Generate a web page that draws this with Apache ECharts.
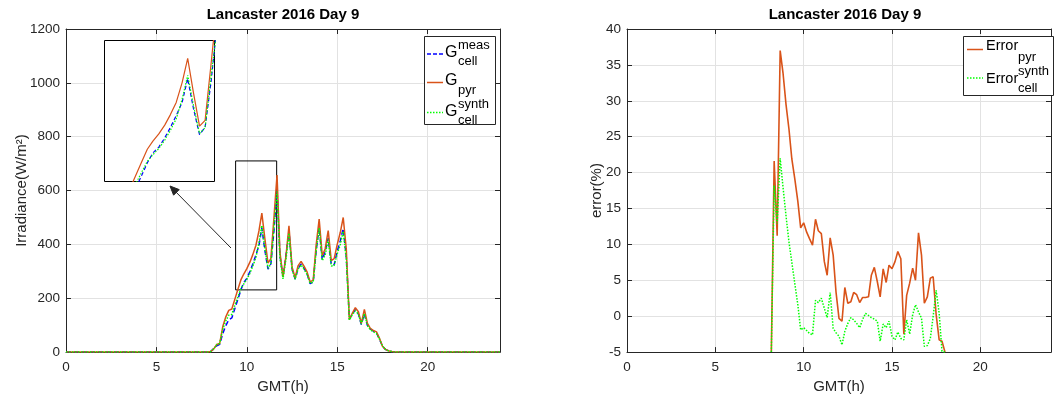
<!DOCTYPE html>
<html><head><meta charset="utf-8">
<script src="https://cdn.jsdelivr.net/npm/echarts@6/dist/echarts.min.js"></script>
<style>html,body{margin:0;padding:0;background:#fff}#c{width:1054px;height:399px}</style>
</head><body><div id="c"></div>
<script>
// ---- data (GMT hours, 10-minute samples) ----
const hours = [0, 7.83, 8.00, 8.17, 8.33, 8.50, 8.67, 8.83, 9.00, 9.17, 9.33, 9.50, 9.67, 9.83, 10.00, 10.17, 10.33, 10.50, 10.67, 10.83, 11.00, 11.17, 11.33, 11.50, 11.67, 11.83, 12.00, 12.17, 12.33, 12.50, 12.67, 12.83, 13.00, 13.17, 13.33, 13.50, 13.67, 13.83, 14.00, 14.17, 14.33, 14.50, 14.67, 14.83, 15.00, 15.17, 15.33, 15.50, 15.67, 15.83, 16.00, 16.17, 16.33, 16.50, 16.67, 16.83, 17.00, 17.17, 17.33, 17.50, 17.67, 17.83, 18.00, 18.17, 24];
const gPyr = [0, 0, 2, 12, 28, 32, 95, 130, 155, 160, 195, 232, 268, 290, 310, 334, 362, 396, 450, 516, 420, 331, 347, 500, 658, 371, 279, 360, 469, 316, 276, 320, 337, 318, 298, 261, 267, 396, 494, 359, 383, 451, 340, 347, 400, 445, 500, 383, 120, 144, 165, 150, 107, 159, 107, 88, 80, 75, 52, 22, 10, 5, 2, 0, 0];
const gMeas = [0, 0, 2, 13, 23, 29, 69, 97, 120, 127, 160, 195, 231, 258, 274, 299, 327, 360, 396, 461, 377, 308, 328, 451, 606, 359, 280, 363, 451, 310, 271, 310, 327, 312, 290, 254, 260, 375, 463, 343, 373, 423, 325, 324, 375, 414, 459, 355, 123, 140, 158, 141, 102, 142, 99, 86, 78, 71, 49, 22, 10, 5, 2, 0, 0];
const gSynth = [0, 0, 2, 12, 27, 33, 85, 115, 137, 140, 172, 204, 235, 253, 270, 293, 319, 351, 405, 470, 386, 311, 327, 466, 596, 351, 272, 348, 442, 307, 270, 308, 324, 307, 289, 255, 260, 374, 461, 340, 360, 418, 320, 322, 365, 400, 449, 344, 119, 139, 154, 141, 104, 143, 99, 83, 75, 69, 49, 23, 10, 5, 2, 0, 0];
const errPyr = [null, null, null, -5, 21.6, 11.2, 37.0, 33.9, 29.5, 26.0, 21.9, 19.1, 16.0, 12.3, 13.0, 11.7, 10.8, 9.9, 13.5, 11.9, 11.5, 7.6, 5.7, 10.9, 8.5, 3.4, -0.3, -0.7, 4.0, 1.8, 2.0, 3.3, 3.0, 1.9, 2.6, 2.6, 2.7, 5.7, 6.8, 4.8, 2.7, 6.6, 4.7, 7.1, 6.6, 7.6, 9.0, 8.0, -2.5, 2.9, 4.6, 6.7, 5.0, 11.6, 8.5, 1.8, 2.7, 5.3, 5.5, 0.2, -3.3, -3.5, -5, null, null];
const errSynth = [null, null, null, -5, 18.2, 12.9, 22.0, 18.0, 14.0, 10.3, 7.5, 4.5, 1.6, -1.9, -1.6, -2.0, -2.4, -2.6, 2.2, 1.9, 2.5, 1.1, -0.2, 3.3, -1.7, -2.3, -2.8, -4.0, -2.1, -1.0, -0.2, -0.5, -1.0, -1.6, -0.5, 0.4, 0.1, -0.2, -0.4, -0.7, -3.5, -1.1, -1.6, -0.7, -2.8, -3.3, -2.2, -3.1, -3.3, -0.5, -2.5, 0.2, 1.6, 0.6, -0.3, -4.2, -4.1, -3.1, 0.0, 3.6, 0.4, -4.9, -5, null, null];
const titleText = 'Lancaster 2016 Day 9';
// zoom window marked on the main plot: [xmin, xmax, ymin, ymax]
const zoomBox = [9.38, 11.65, 231, 710];
// axis ranges of the magnified inset: [xmin, xmax, ymin, ymax]
const insetRange = [8.44, 11.6, 180, 565];

// ---- chart ----
const FONT = '"Liberation Sans", Arial, sans-serif';
const AX = '#262626';
const GRIDC = '#e2e2e2';
const C_MEAS = '#0000ff', C_PYR = '#d95319', C_SYN = '#00ff00';
const pts = ys => hours.map((h, i) => [h, ys[i]]);

function xBottom(gi) {
  return { type: 'value', gridIndex: gi, min: 0, max: 24, interval: 5, position: 'bottom',
    name: 'GMT(h)', nameLocation: 'middle', nameGap: 26,
    nameTextStyle: { color: AX, fontSize: 15, fontFamily: FONT },
    axisLine: { show: true, onZero: false, lineStyle: { color: AX } },
    axisTick: { show: true, inside: true, length: 5, lineStyle: { color: AX } },
    axisLabel: { color: AX, fontSize: 13.5, fontFamily: FONT, margin: 8, formatter: v => (v === 24 ? '' : String(v)) },
    splitLine: { show: true, lineStyle: { color: GRIDC } } };
}
function xTop(gi) {
  return { type: 'value', gridIndex: gi, min: 0, max: 24, interval: 5, position: 'top',
    axisLine: { show: true, onZero: false, lineStyle: { color: AX } },
    axisTick: { show: true, inside: true, length: 5, lineStyle: { color: AX } },
    axisLabel: { show: false }, splitLine: { show: false } };
}
function yLeft(gi, min, max, step, name, gap) {
  return { type: 'value', gridIndex: gi, min, max, interval: step, position: 'left',
    name, nameLocation: 'middle', nameGap: gap, nameMoveOverlap: false,
    nameTextStyle: { color: AX, fontSize: 15, fontFamily: FONT },
    axisLine: { show: true, onZero: false, lineStyle: { color: AX } },
    axisTick: { show: true, inside: true, length: 5, lineStyle: { color: AX } },
    axisLabel: { color: AX, fontSize: 13.5, fontFamily: FONT, margin: 6, formatter: v => String(v) },
    splitLine: { show: true, lineStyle: { color: GRIDC } } };
}
function yRight(gi, min, max, step) {
  return { type: 'value', gridIndex: gi, min, max, interval: step, position: 'right',
    axisLine: { show: true, onZero: false, lineStyle: { color: AX } },
    axisTick: { show: true, inside: true, length: 5, lineStyle: { color: AX } },
    axisLabel: { show: false }, splitLine: { show: false } };
}
function line(data, color, type, xi, yi, z, w) {
  return { type: 'line', data, xAxisIndex: xi, yAxisIndex: yi, symbol: 'none', z,
    clip: true, animation: false, silent: true,
    lineStyle: { color, width: w, type } };
}

const series = [
  line(pts(gMeas), C_MEAS, [5, 3], 0, 0, 2, 1.5),
  Object.assign(line(pts(gPyr), C_PYR, 'solid', 0, 0, 3, 1.5), {
    markArea: { silent: true, itemStyle: { color: 'rgba(0,0,0,0)', borderColor: '#000', borderWidth: 1 },
      data: [[{ coord: [zoomBox[0], zoomBox[3]] }, { coord: [zoomBox[1], zoomBox[2]] }]] } }),
  line(pts(gSynth), C_SYN, [1.5, 1.5], 0, 0, 4, 1.5),
  line(pts(errPyr), C_PYR, 'solid', 2, 2, 3, 1.6),
  line(pts(errSynth), C_SYN, [1.5, 1.5], 2, 2, 4, 1.5),
  line(pts(gMeas), C_MEAS, [4, 2.5], 4, 4, 6, 1.2),
  line(pts(gPyr), C_PYR, 'solid', 4, 4, 7, 1.2),
  line(pts(gSynth), C_SYN, [1.5, 1.5], 4, 4, 8, 1.2)
];

function txt(x, y, text, size, extra) {
  return { type: 'text', z: 20, x, y, style: Object.assign({ text, fontSize: size, fontFamily: FONT, fill: '#000', verticalAlign: 'middle', align: 'left' }, extra || {}) };
}
function lseg(x1, x2, y, color, dash) {
  return { type: 'line', z: 20, shape: { x1, y1: y, x2, y2: y }, style: { stroke: color, lineWidth: 1.5, lineDash: dash } };
}

const graphic = [
  // titles
  txt(283, 15, titleText, 15, { fontWeight: 'bold', align: 'center' }),
  txt(845, 15, titleText, 15, { fontWeight: 'bold', align: 'center' }),
  // inset frame
  { type: 'rect', z: 1, shape: { x: 104.5, y: 40.5, width: 110, height: 141 }, style: { fill: '#fff', stroke: '#000', lineWidth: 1 } },
  // arrow
  { type: 'line', z: 10, shape: { x1: 231, y1: 248, x2: 173, y2: 189 }, style: { stroke: '#262626', lineWidth: 1 } },
  { type: 'polygon', z: 10, shape: { points: [[170, 186], [173.6, 195.2], [179.2, 189.6]] }, style: { fill: '#262626', stroke: '#262626', lineWidth: 1 } },
  // left legend
  { type: 'rect', z: 19, shape: { x: 424.5, y: 36.5, width: 71, height: 88 }, style: { fill: '#fff', stroke: AX, lineWidth: 1 } },
  lseg(427, 443, 54, C_MEAS, [4, 2]),
  txt(445, 53, 'G', 16), txt(458, 45, 'meas', 13), txt(458, 61, 'cell', 13),
  lseg(427, 443, 82.5, C_PYR, null),
  txt(445, 81, 'G', 16), txt(458, 90, 'pyr', 13),
  lseg(427, 443, 112.5, C_SYN, [1.5, 1.5]),
  txt(445, 112, 'G', 16), txt(458, 104.5, 'synth', 13), txt(458, 120, 'cell', 13),
  // right legend
  { type: 'rect', z: 19, shape: { x: 963.5, y: 36.5, width: 90, height: 59 }, style: { fill: '#fff', stroke: AX, lineWidth: 1 } },
  lseg(967, 983, 49.5, C_PYR, null),
  txt(986, 46, 'Error', 14.5), txt(1018, 57.5, 'pyr', 13),
  lseg(967, 983, 78, C_SYN, [1.5, 1.5]),
  txt(986, 79, 'Error', 14.5), txt(1018, 71.5, 'synth', 13), txt(1018, 88, 'cell', 13)
];

const option = {
  animation: false,
  backgroundColor: '#fff',
  grid: [
    { left: 66, top: 29, width: 434, height: 325 },
    { left: 627, top: 29, width: 435, height: 325 },
    { left: 104.5, top: 40.5, width: 110, height: 141 }
  ],
  xAxis: [
    xBottom(0), xTop(0), xBottom(1), xTop(1),
    { type: 'value', gridIndex: 2, min: insetRange[0], max: insetRange[1], show: false }
  ],
  yAxis: [
    yLeft(0, 0, 1200, 200, 'Irradiance(W/m²)', 37), yRight(0, 0, 1200, 200),
    yLeft(1, -5, 40, 5, 'error(%)', 23), yRight(1, -5, 40, 5),
    { type: 'value', gridIndex: 2, min: insetRange[2], max: insetRange[3], show: false }
  ],
  series,
  graphic
};
const chart = echarts.init(document.getElementById('c'));
chart.setOption(option);
</script></body></html>
